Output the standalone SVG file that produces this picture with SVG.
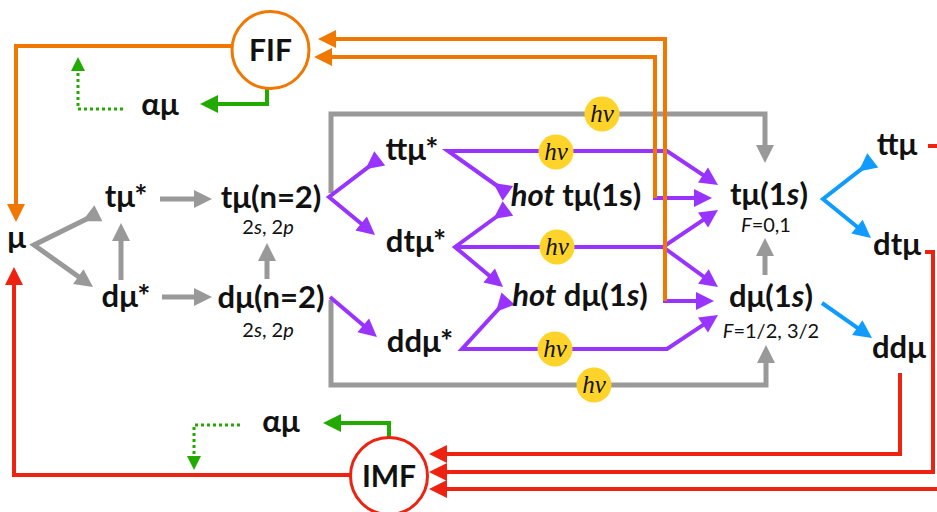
<svg xmlns="http://www.w3.org/2000/svg" width="937" height="512" viewBox="0 0 937 512">
<style>
.n{font-family:Lato,"Open Sans","Liberation Sans",sans-serif;font-weight:700;font-size:31px;fill:#111;text-anchor:middle}
.s{font-family:Lato,"Open Sans","Liberation Sans",sans-serif;font-weight:400;font-size:20px;fill:#111;text-anchor:middle}
.big{font-family:Lato,"Open Sans","Liberation Sans",sans-serif;font-weight:700;font-size:30px;fill:#111;text-anchor:middle}
.i{font-style:italic}
.hv{font-family:"Liberation Serif","DejaVu Serif",serif;font-style:italic;font-size:25px;fill:#111;text-anchor:middle}
.ph{fill:#FFD42A}
.gy{fill:none;stroke:#999999;stroke-width:5}
.pu{fill:none;stroke:#9933FF;stroke-width:4}
.or{fill:none;stroke:#F07800;stroke-width:4}
.rd{fill:none;stroke:#EE2211;stroke-width:4}
.gn{fill:none;stroke:#22AA00;stroke-width:4}
.gd{fill:none;stroke:#22AA00;stroke-width:3;stroke-dasharray:3 3}
.bl{fill:none;stroke:#0F9BFF;stroke-width:4}
</style>
<defs>
<marker id="a-gy" markerUnits="userSpaceOnUse" markerWidth="18" markerHeight="18" refX="12" refY="9" orient="auto" overflow="visible"><path d="M0,0 L18,9 L0,18 z" fill="#999999"/></marker>
<marker id="a-pu" markerUnits="userSpaceOnUse" markerWidth="18" markerHeight="18" refX="12" refY="9" orient="auto" overflow="visible"><path d="M0,0 L18,9 L0,18 z" fill="#9933FF"/></marker>
<marker id="a-or" markerUnits="userSpaceOnUse" markerWidth="18" markerHeight="18" refX="12" refY="9" orient="auto" overflow="visible"><path d="M0,0 L18,9 L0,18 z" fill="#F07800"/></marker>
<marker id="a-rd" markerUnits="userSpaceOnUse" markerWidth="18" markerHeight="18" refX="12" refY="9" orient="auto" overflow="visible"><path d="M0,0 L18,9 L0,18 z" fill="#EE2211"/></marker>
<marker id="a-gn" markerUnits="userSpaceOnUse" markerWidth="18" markerHeight="18" refX="12" refY="9" orient="auto" overflow="visible"><path d="M0,0 L18,9 L0,18 z" fill="#22AA00"/></marker>
<marker id="a-gd" markerUnits="userSpaceOnUse" markerWidth="14" markerHeight="14" refX="10" refY="7" orient="auto" overflow="visible"><path d="M0,0 L14,7 L0,14 z" fill="#22AA00"/></marker>
<marker id="a-bl" markerUnits="userSpaceOnUse" markerWidth="18" markerHeight="18" refX="12" refY="9" orient="auto" overflow="visible"><path d="M0,0 L18,9 L0,18 z" fill="#0F9BFF"/></marker>
</defs>
<rect width="937" height="512" fill="#fff"/>
<g id="connectors">
<!-- gray -->
<polyline class="gy" points="87.6,218.6 34,245 88.1,283.5" marker-start="url(#a-gy)" marker-end="url(#a-gy)"/>
<line class="gy" x1="121" y1="280" x2="121" y2="229" marker-end="url(#a-gy)"/>
<line class="gy" x1="160" y1="199" x2="206" y2="199" marker-end="url(#a-gy)"/>
<line class="gy" x1="162" y1="297" x2="206" y2="297" marker-end="url(#a-gy)"/>
<line class="gy" x1="267" y1="279" x2="267" y2="249" marker-end="url(#a-gy)"/>
<polyline class="gy" points="331,193 331,114 765,114 765,157" marker-end="url(#a-gy)"/>
<polyline class="gy" points="331,300 331,385 766,385 766,351" marker-end="url(#a-gy)"/>
<line class="gy" x1="765" y1="275" x2="765" y2="244" marker-end="url(#a-gy)"/>
<!-- purple -->
<polyline class="pu" points="370.2,165.6 329,197 370.4,231.2" marker-start="url(#a-pu)" marker-end="url(#a-pu)"/>
<line class="pu" x1="330" y1="297" x2="372.4" y2="333.1" marker-end="url(#a-pu)"/>
<polyline class="pu" points="498.1,186.5 448,151 667,151 713,181.7" marker-start="url(#a-pu)" marker-end="url(#a-pu)"/>
<polyline class="pu" points="498.2,215.5 455,247 498.4,283.2" marker-start="url(#a-pu)" marker-end="url(#a-pu)"/>
<polyline class="pu" points="455,247 663,247 713,213.3" marker-end="url(#a-pu)"/>
<line class="pu" x1="663" y1="247" x2="713.1" y2="283.5" marker-end="url(#a-pu)"/>
<polyline class="pu" points="500,307.4 462,349 667,349 713,318.3" marker-start="url(#a-pu)" marker-end="url(#a-pu)"/>
<line class="pu" x1="653" y1="198" x2="706" y2="198" marker-end="url(#a-pu)"/>
<line class="pu" x1="663" y1="301" x2="708" y2="301" marker-end="url(#a-pu)"/>
<!-- orange -->
<polyline class="or" points="232,46 16,46 16,216" marker-end="url(#a-or)"/>
<polyline class="or" points="655,198 655,57 320,57" marker-end="url(#a-or)"/>
<polyline class="or" points="665,301 665,39 324,39" marker-end="url(#a-or)"/>
<!-- blue -->
<polyline class="bl" points="863.3,167.7 823,199 866.3,234.2" marker-start="url(#a-bl)" marker-end="url(#a-bl)"/>
<line class="bl" x1="822" y1="303" x2="867.1" y2="334.6" marker-end="url(#a-bl)"/>
<!-- red -->
<line class="rd" x1="928" y1="146" x2="945" y2="146"/>
<polyline class="rd" points="925,252 933,252 933,472 435,472" marker-end="url(#a-rd)"/>
<polyline class="rd" points="900,373 900,454 435,454" marker-end="url(#a-rd)"/>
<line class="rd" x1="945" y1="489" x2="435" y2="489" marker-end="url(#a-rd)"/>
<polyline class="rd" points="350,475 14,475 14,273" marker-end="url(#a-rd)"/>
<!-- green -->
<polyline class="gn" points="267,89 267,104 206,104" marker-end="url(#a-gn)"/>
<polyline class="gn" points="389,437 389,423 329,423" marker-end="url(#a-gn)"/>
<polyline class="gd" points="123,109 78,109 78,61" marker-end="url(#a-gd)"/>
<polyline class="gd" points="240,425 194,425 194,466" marker-end="url(#a-gd)"/>
<!-- photon labels -->
<g id="photons">
<circle class="ph" cx="602" cy="114" r="17.5"/><text class="hv" x="602" y="122">hν</text>
<circle class="ph" cx="556" cy="152" r="17.5"/><text class="hv" x="556" y="160">hν</text>
<circle class="ph" cx="557" cy="247" r="17.5"/><text class="hv" x="557" y="255">hν</text>
<circle class="ph" cx="555" cy="349" r="17.5"/><text class="hv" x="555" y="357">hν</text>
<circle class="ph" cx="594" cy="385" r="17.5"/><text class="hv" x="594" y="393">hν</text>
</g>
</g>
<g id="FIF"><circle cx="270.5" cy="50" r="38.5" fill="#fff" stroke="#F07800" stroke-width="3"/><text class="big" x="270.5" y="61">FIF</text></g>
<g id="IMF"><circle cx="389" cy="476" r="38.5" fill="#fff" stroke="#EE2211" stroke-width="3"/><text class="big" x="389" y="487">IMF</text></g>
<g id="mu"><text class="n" x="16.5" y="248">μ</text></g>
<g id="tmu-star"><text class="n" x="126" y="207">tμ*</text></g>
<g id="dmu-star"><text class="n" x="126" y="307">dμ*</text></g>
<g id="tmu-n2"><text class="n" x="271" y="208">tμ(n=2)</text><text class="s" x="268" y="234">2<tspan class="i">s</tspan>, 2<tspan class="i">p</tspan></text></g>
<g id="dmu-n2"><text class="n" x="271" y="308">dμ(n=2)</text><text class="s" x="268" y="337">2<tspan class="i">s</tspan>, 2<tspan class="i">p</tspan></text></g>
<g id="ttmu-star"><text class="n" x="412" y="160">ttμ*</text></g>
<g id="dtmu-star"><text class="n" x="416" y="252">dtμ*</text></g>
<g id="ddmu-star"><text class="n" x="420" y="352">ddμ*</text></g>
<g id="hot-tmu"><text class="n" x="576" y="206"><tspan class="i">hot</tspan> tμ(1s)</text></g>
<g id="hot-dmu"><text class="n" x="580" y="306"><tspan class="i">hot</tspan> dμ(1<tspan class="i">s</tspan>)</text></g>
<g id="tmu-1s"><text class="n" x="769" y="205">tμ(1<tspan class="i">s</tspan>)</text><text class="s" x="766" y="232"><tspan class="i">F</tspan>=0,1</text></g>
<g id="dmu-1s"><text class="n" x="771" y="307">dμ(1<tspan class="i">s</tspan>)</text><text class="s" x="771" y="338"><tspan class="i">F</tspan>=1/2, 3/2</text></g>
<g id="ttmu"><text class="n" x="897" y="155">ttμ</text></g>
<g id="dtmu"><text class="n" x="897" y="255">dtμ</text></g>
<g id="ddmu"><text class="n" x="899" y="358">ddμ</text></g>
<g id="alpha-mu-top"><text class="n" x="160" y="115">αμ</text></g>
<g id="alpha-mu-bottom"><text class="n" x="281" y="432">αμ</text></g>
</svg>
